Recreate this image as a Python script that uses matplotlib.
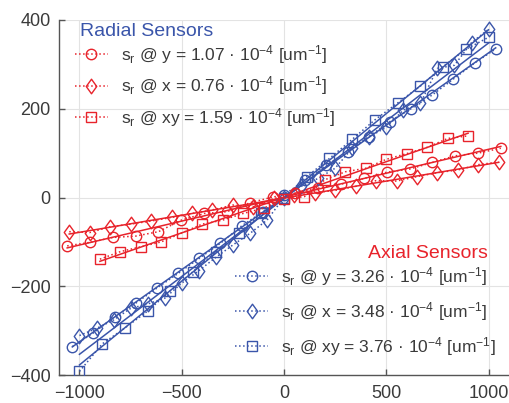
import numpy as np
import matplotlib
matplotlib.use("Agg")
import matplotlib.pyplot as plt
from matplotlib.lines import Line2D
from matplotlib.path import Path

plt.rcParams['font.family'] = ['Liberation Sans', 'DejaVu Sans']
plt.rcParams['mathtext.fontset'] = 'custom'
plt.rcParams['mathtext.rm'] = 'Liberation Sans'
plt.rcParams['mathtext.it'] = 'Liberation Sans'

# ---------------- data ----------------
# Radial sensors (red)
rad_y_x = np.linspace(-1060, 1060, 20)
rad_y_s = [-109, -101, -90, -87, -77, -51, -36, -32, -12, 1,
           10, 21, 30, 43, 57, 64, 79, 94, 100, 111]
rad_x_x = np.linspace(-1050, 1050, 22)
rad_x_s = [-77, -79, -66, -60, -53, -45, -36, -28, -17, -21, -2,
           5, 11, 16, 25, 38, 37, 47, 56, 62, 74, 80]
rad_xy_x = np.linspace(-900, 900, 19)
rad_xy_s = [-139, -122, -111, -100, -80, -60, -51, -36, -24, -3,
            2, 40, 58, 66, 86, 99, 113, 133, 139]

# Axial sensors (blue)
ax_y_x = np.linspace(-1035, 1035, 21)
ax_y_s = [-336, -305, -269, -238, -204, -171, -137, -103, -64, -32, 6,
          39, 73, 103, 137, 171, 200, 231, 267, 303, 335]
ax_x_x = np.linspace(-1000, 1000, 25)
ax_x_s = [-311, -295, -276, -250, -240, -227, -193, -165, -135, -107, -81, -51, 0,
          25, 43, 66, 111, 137, 158, 197, 212, 291, 298, 349, 379]
ax_xy_x = np.linspace(-1000, 1000, 19)
ax_xy_s = [-392, -330, -294, -256, -210, -167, -122, -81, -36, -2,
           47, 88, 131, 175, 213, 251, 295, 334, 361]

rad_labels = [r"$\mathregular{s_r}$ @ y = 1.07 · 10$^{\mathregular{-4}}$ [um$^{\mathregular{-1}}$]",
              r"$\mathregular{s_r}$ @ x = 0.76 · 10$^{\mathregular{-4}}$ [um$^{\mathregular{-1}}$]",
              r"$\mathregular{s_r}$ @ xy = 1.59 · 10$^{\mathregular{-4}}$ [um$^{\mathregular{-1}}$]"]
ax_labels = [r"$\mathregular{s_r}$ @ y = 3.26 · 10$^{\mathregular{-4}}$ [um$^{\mathregular{-1}}$]",
             r"$\mathregular{s_r}$ @ x = 3.48 · 10$^{\mathregular{-4}}$ [um$^{\mathregular{-1}}$]",
             r"$\mathregular{s_r}$ @ xy = 3.76 · 10$^{\mathregular{-4}}$ [um$^{\mathregular{-1}}$]"]

xticks = [-1000, -500, 0, 500, 1000]
yticks = [-400, -200, 0, 200, 400]

RED = '#E8232B'
BLUE = '#3A55AA'
TXT = '#3a3a3a'

fig = plt.figure(figsize=(5.09, 4.03), dpi=100)
ax = fig.add_axes([59/509, 28/403, 450/509, 355/403])

diamond = Path([(0, 1), (0.72, 0), (0, -1), (-0.72, 0), (0, 1)],
               [Path.MOVETO, Path.LINETO, Path.LINETO, Path.LINETO, Path.CLOSEPOLY])
markers = ['o', diamond, 's']
msizes = [7.5, 10.5, 7]

def draw(xs, ys, color, m, ms):
    xs = np.asarray(xs, float); ys = np.asarray(ys, float)
    p = np.polyfit(xs, ys, 1)
    ax.plot(xs, np.polyval(p, xs), '-', color=color, lw=1.1, zorder=3)
    ax.plot(xs, ys, ':', color=color, lw=1.1, marker=m, ms=ms,
            mfc='none', mec=color, mew=1.0, zorder=4)

blue_sets = [(ax_y_x, ax_y_s), (ax_x_x, ax_x_s), (ax_xy_x, ax_xy_s)]
red_sets = [(rad_y_x, rad_y_s), (rad_x_x, rad_x_s), (rad_xy_x, rad_xy_s)]
for (xs, ys), m, ms in zip(blue_sets, markers, msizes):
    draw(xs, ys, BLUE, m, ms)
for (xs, ys), m, ms in zip(red_sets, markers, msizes):
    draw(xs, ys, RED, m, ms)

ax.set_xlim(-1100, 1100)
ax.set_ylim(-400, 400)
ax.set_xticks(xticks)
ax.set_yticks(yticks)
ax.grid(True, color='#e3e3e3', lw=0.8)
ax.set_axisbelow(True)
for s in ['top', 'right']:
    ax.spines[s].set_visible(False)
for s in ['left', 'bottom']:
    ax.spines[s].set_color('#555555')
    ax.spines[s].set_linewidth(1.0)
ax.tick_params(direction='in', length=4, width=1.0, color='#555555',
               labelsize=13, labelcolor=TXT)
ax.tick_params(axis='x', pad=7.5)
ax.tick_params(axis='y', pad=6)

def handles(color):
    return [Line2D([], [], ls=':', lw=1.1, color=color, marker=m, ms=ms,
                   mfc='none', mec=color) for m, ms in zip(markers, msizes)]

leg1 = ax.legend(handles(RED), rad_labels, loc='upper left',
                 bbox_to_anchor=(0.02, 0.955), frameon=False, fontsize=12.5,
                 handlelength=1.9, handletextpad=0.75, labelspacing=0.5,
                 borderaxespad=0, labelcolor=TXT)
ax.add_artist(leg1)
leg2 = ax.legend(handles(BLUE), ax_labels, loc='upper left',
                 bbox_to_anchor=(0.376, 0.33), frameon=False, fontsize=12.5,
                 handlelength=1.9, handletextpad=0.75, labelspacing=0.7,
                 borderaxespad=0, labelcolor=TXT)

fig.text(80/509, 1 - 31/403, 'Radial Sensors', color=BLUE, fontsize=14,
         ha='left', va='center')
fig.text(488/509, 1 - 253/403, 'Axial Sensors', color=RED, fontsize=14,
         ha='right', va='center')

fig.savefig('out.png', dpi=100)
